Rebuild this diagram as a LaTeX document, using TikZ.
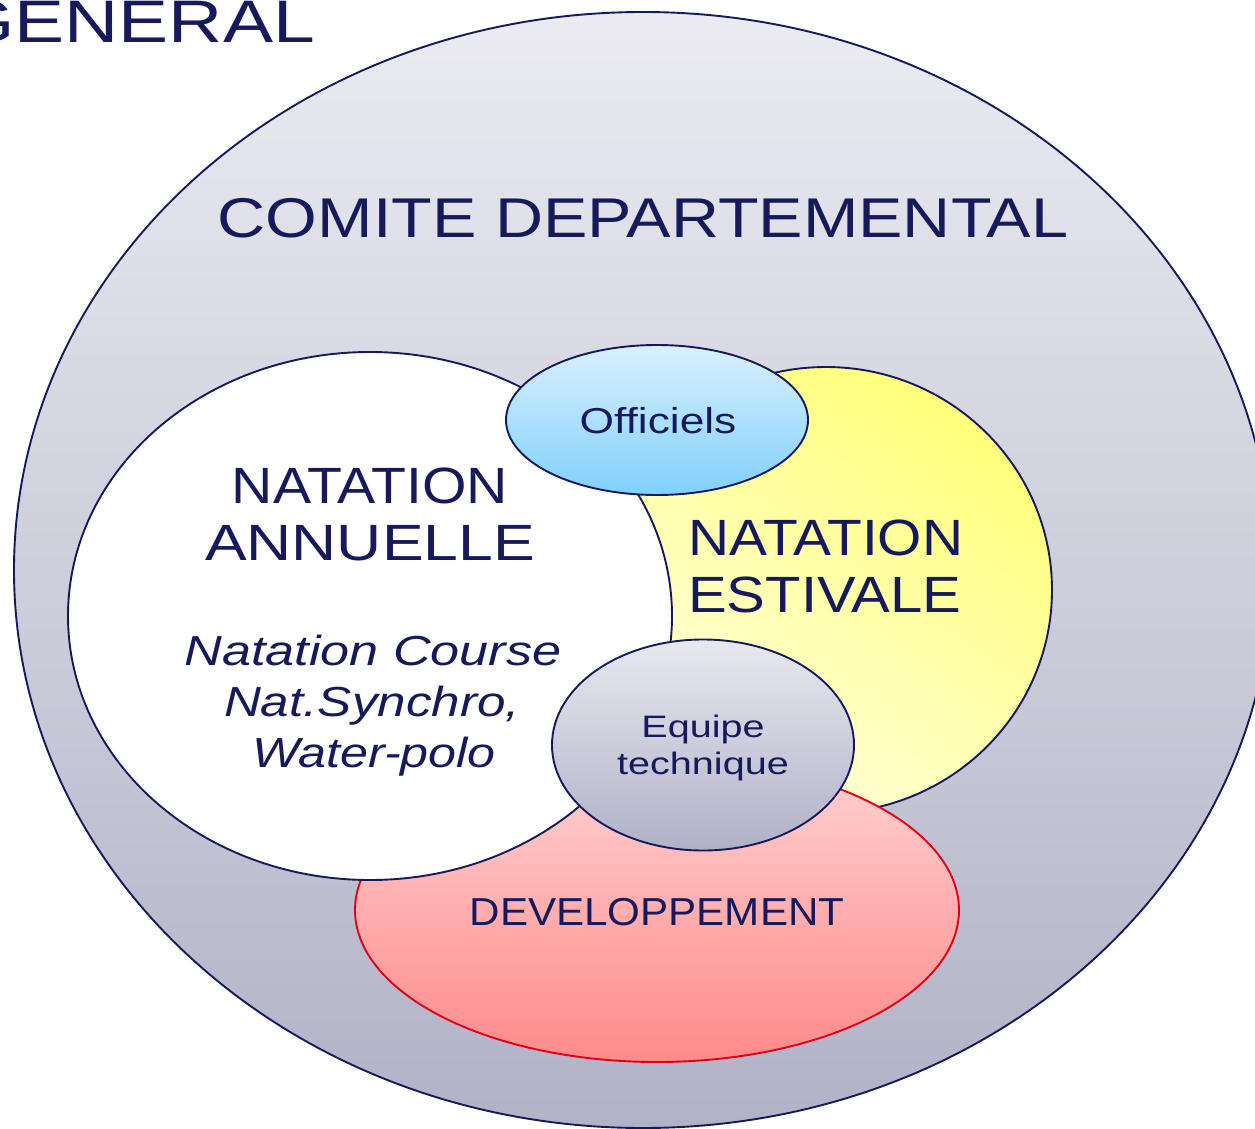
\documentclass[tikz,border=0pt]{standalone}
\usepackage{fontspec}
\usepackage{graphicx}
\setmainfont{Liberation Sans}[FakeStretch=1.15]
\usetikzlibrary{shapes.geometric}
\definecolor{navy}{HTML}{161A5C}
\definecolor{bigtop}{HTML}{EBEBF1}
\definecolor{bigbot}{HTML}{B2B2C7}
\definecolor{yeltop}{HTML}{FFFF7A}
\definecolor{yelbot}{HTML}{FFFFDC}
\definecolor{pinktop}{HTML}{FFD2D2}
\definecolor{pinkbot}{HTML}{FF8A8A}
\definecolor{pinkline}{HTML}{E0001A}
\definecolor{bluetop}{HTML}{DAF0FF}
\definecolor{bluebot}{HTML}{80D0FC}
\definecolor{graytop}{HTML}{E8E8EF}
\definecolor{graybot}{HTML}{B0B1C8}
\tikzset{
  ell/.style={ellipse, draw=navy, line width=1.9pt, inner sep=0pt},
  lbl/.style={text=navy, inner sep=0pt, anchor=base},
}
\begin{document}
\begin{tikzpicture}[x=1pt,y=-1pt]
\useasboundingbox (0,0) rectangle (1255,1129);
\clip (0,0) rectangle (1255,1129);
\fill[white] (0,0) rectangle (1255,1129);
\node[ell, top color=bigtop, bottom color=bigbot, minimum width=1258pt, minimum height=1116pt] (big) at (643,570) {};
\node[ell, top color=yeltop, bottom color=yelbot, shading angle=-35, minimum width=452pt, minimum height=446pt] (yel) at (826,590) {};
\node[ell, draw=pinkline, top color=pinktop, bottom color=pinkbot, minimum width=604pt, minimum height=304pt] (pink) at (657,910) {};
\node[ell, fill=white, minimum width=604pt, minimum height=528pt] (white) at (370,616) {};
\node[ell, top color=bluetop, bottom color=bluebot, minimum width=302pt, minimum height=150pt] (blue) at (657,420) {};
\node[ell, top color=graytop, bottom color=graybot, minimum width=302pt, minimum height=211pt] (gray) at (703,745) {};

\node[lbl, anchor=base east, font=\fontsize{60}{60}\selectfont] (general) at (315,43) {\scalebox{1.087}[1]{GENERAL}};
\node[lbl, font=\fontsize{56}{56}\selectfont] (comite) at (643,237) {\scalebox{1.033}[1]{COMITE DEPARTEMENTAL}};
\node[lbl, font=\fontsize{51}{51}\selectfont] (ann1) at (370,503) {\scalebox{0.975}[1]{NATATION}};
\node[lbl, font=\fontsize{51}{51}\selectfont] (ann2) at (370,560) {\scalebox{1.065}[1]{ANNUELLE}};
\node[lbl, anchor=base west, font=\fontsize{51}{51}\selectfont] (est1) at (688,555) {\scalebox{0.97}[1]{NATATION}};
\node[lbl, anchor=base west, font=\fontsize{51}{51}\selectfont] (est2) at (688,612) {\scalebox{0.99}[1]{ESTIVALE}};
\node[lbl, font=\fontsize{42}{42}\selectfont\itshape] (it1) at (373,665) {\scalebox{1.08}[1]{Natation Course}};
\node[lbl, font=\fontsize{42}{42}\selectfont\itshape] (it2) at (372,716) {\scalebox{1.06}[1]{Nat.Synchro,}};
\node[lbl, font=\fontsize{42}{42}\selectfont\itshape] (it3) at (374,767) {\scalebox{1.04}[1]{Water-polo}};
\node[lbl, font=\fontsize{36}{36}\selectfont] (off) at (658,433) {\scalebox{1.07}[1]{Officiels}};
\node[lbl, font=\fontsize{31}{31}\selectfont] (eq1) at (703,737) {\scalebox{1.11}[1]{Equipe}};
\node[lbl, font=\fontsize{31}{31}\selectfont] (eq2) at (703,774) {\scalebox{1.11}[1]{technique}};
\node[lbl, font=\fontsize{39}{39}\selectfont] (dev) at (657,925) {\scalebox{0.94}[1]{DEVELOPPEMENT}};
\end{tikzpicture}
\end{document}
